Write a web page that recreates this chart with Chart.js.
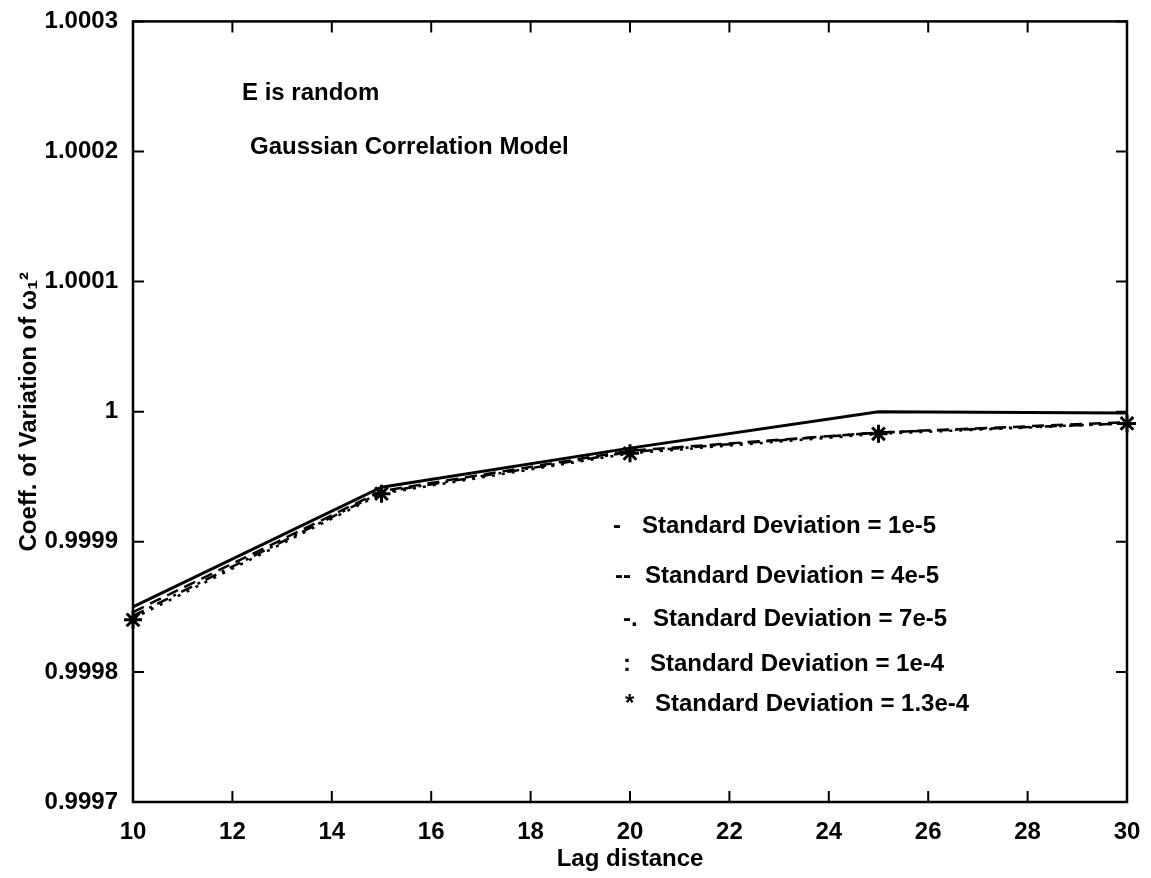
<!DOCTYPE html>
<html>
<head>
<meta charset="utf-8">
<script src="https://cdn.jsdelivr.net/npm/chart.js@4"></script>
<style>
  html, body { margin: 0; padding: 0; background: #fff; }
  #wrap { width: 1151px; height: 878px; }
</style>
</head>
<body>
<div id="wrap"><canvas id="cv" width="1151" height="878"></canvas></div>
<script>
// ---- data ----
const lagDistance = [10, 15, 20, 25, 30];
const sd1e5   = [0.999850, 0.999942, 0.999972, 1.000000, 0.999999];
const sd4e5   = [0.999846, 0.999939, 0.999970, 0.999984, 0.999992];
const sd7e5   = [0.999843, 0.999938, 0.999969, 0.999984, 0.999991];
const sd1e4   = [0.999841, 0.999937, 0.999968, 0.999983, 0.999991];
const sd13e4  = [0.999840, 0.999937, 0.999968, 0.999983, 0.999991];

const yTicks = [0.9997, 0.9998, 0.9999, 1.0, 1.0001, 1.0002, 1.0003];
const yTickLabels = ['0.9997', '0.9998', '0.9999', '1', '1.0001', '1.0002', '1.0003'];
const xTicks = [10, 12, 14, 16, 18, 20, 22, 24, 26, 28, 30];

const noteLines = ['E is random', 'Gaussian Correlation Model'];
const legendMarks = ['-', '--', '-.', ':', '*'];
const legendLabels = [
    'Standard Deviation = 1e-5',
    'Standard Deviation = 4e-5',
    'Standard Deviation = 7e-5',
    'Standard Deviation = 1e-4',
    'Standard Deviation = 1.3e-4'
];

const FONT = '"Liberation Sans", Arial, Helvetica, sans-serif';

const pts = (ys) => lagDistance.map((x, i) => ({ x: x, y: ys[i] }));

// text placement (pixels from chart area top-left)
const notePos = [[109, 72], [117, 126]];
const legendPos = [
    [480, 509, 505], [482, 512, 555], [490, 520, 598], [490, 517, 643], [492, 522, 683]
];

// MATLAB-like frame with inward ticks + text annotations
const framePlugin = {
    id: 'frame',
    afterDraw(chart) {
        const { ctx, chartArea: a, scales } = chart;
        const tl = 11;
        ctx.save();
        ctx.strokeStyle = '#000';
        ctx.lineWidth = 2.5;
        ctx.strokeRect(a.left, a.top, a.right - a.left, a.bottom - a.top);
        ctx.lineWidth = 2;
        ctx.beginPath();
        xTicks.forEach((v) => {
            const px = scales.x.getPixelForValue(v);
            ctx.moveTo(px, a.bottom); ctx.lineTo(px, a.bottom - tl);
            ctx.moveTo(px, a.top); ctx.lineTo(px, a.top + tl);
        });
        yTicks.forEach((v) => {
            const py = scales.y.getPixelForValue(v);
            ctx.moveTo(a.left, py); ctx.lineTo(a.left + tl, py);
            ctx.moveTo(a.right, py); ctx.lineTo(a.right - tl, py);
        });
        ctx.stroke();

        ctx.fillStyle = '#000';
        ctx.font = 'bold 24px ' + FONT;
        ctx.textBaseline = 'middle';
        ctx.textAlign = 'left';
        noteLines.forEach((t, i) => {
            ctx.fillText(t, a.left + notePos[i][0], a.top + notePos[i][1]);
        });
        legendLabels.forEach((t, i) => {
            const [mx, tx, ty] = legendPos[i];
            ctx.fillText(legendMarks[i], a.left + mx, a.top + ty);
            ctx.fillText(t, a.left + tx, a.top + ty);
        });
        ctx.restore();
    }
};

const lineBase = {
    borderColor: '#000',
    backgroundColor: '#000',
    borderWidth: 2.5,
    pointRadius: 0,
    tension: 0,
    fill: false,
    clip: false
};

new Chart(document.getElementById('cv'), {
    type: 'line',
    data: {
        datasets: [
            Object.assign({ label: legendLabels[0], data: pts(sd1e5) }, lineBase, { borderWidth: 3 }),
            Object.assign({ label: legendLabels[1], data: pts(sd4e5) }, lineBase, { borderDash: [12, 7] }),
            Object.assign({ label: legendLabels[2], data: pts(sd7e5) }, lineBase, { borderDash: [12, 6, 3, 6] }),
            Object.assign({ label: legendLabels[3], data: pts(sd1e4) }, lineBase, { borderDash: [3, 7] }),
            Object.assign({ label: legendLabels[4], data: pts(sd13e4) }, lineBase, {
                showLine: false, pointStyle: 'star', pointRadius: 9, borderWidth: 3
            })
        ]
    },
    options: {
        responsive: false,
        animation: false,
        events: [],
        layout: { padding: { left: 0, right: 24, top: 20, bottom: 0 } },
        plugins: { legend: { display: false }, tooltip: { enabled: false } },
        scales: {
            x: {
                type: 'linear',
                min: 10, max: 30,
                afterFit: (s) => { s.height = 76; },
                afterBuildTicks: (s) => { s.ticks = xTicks.map((v) => ({ value: v })); },
                grid: { display: false },
                border: { display: false },
                ticks: { color: '#000', padding: 8, font: { family: FONT, size: 24, weight: 'bold' } },
                title: {
                    display: true, text: 'Lag distance', color: '#000',
                    padding: { top: 4, bottom: 4 }, font: { family: FONT, size: 24, weight: 'bold' }
                }
            },
            y: {
                type: 'linear',
                min: 0.9997, max: 1.0003,
                afterFit: (s) => { s.width = 133; },
                afterBuildTicks: (s) => { s.ticks = yTicks.map((v) => ({ value: v })); },
                grid: { display: false },
                border: { display: false },
                ticks: {
                    color: '#000', padding: 7, font: { family: FONT, size: 24, weight: 'bold' },
                    callback: (v, i) => yTickLabels[i]
                },
                title: {
                    display: true, text: 'Coeff. of Variation of ω\u2081\u00B2', color: '#000',
                    padding: { top: 15, bottom: 4 }, font: { family: FONT, size: 24, weight: 'bold' }
                }
            }
        }
    },
    plugins: [framePlugin]
});
</script>
</body>
</html>
